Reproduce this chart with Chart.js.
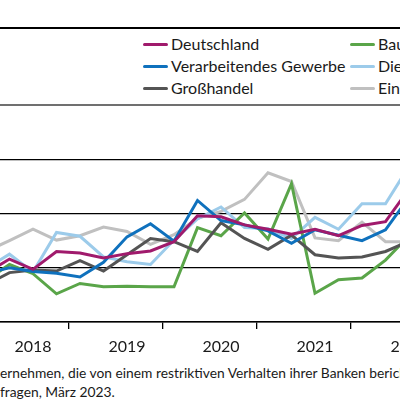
<!DOCTYPE html>
<html lang="de">
<head>
<meta charset="utf-8">
<script src="https://cdn.jsdelivr.net/npm/chart.js@4.4.1/dist/chart.umd.min.js"></script>
<style>
  html, body { margin: 0; padding: 0; width: 400px; height: 400px; overflow: hidden; background: #fff; }
  body { position: relative; font-family: Lato, "Open Sans", sans-serif; color: #1a1a1a; }
  #topRule { position: absolute; left: 0; top: 27px; width: 400px; height: 2px; background: #000; }
  #legend { position: absolute; left: 0; top: 0; width: 400px; height: 100px; }
  .item { position: absolute; white-space: nowrap; font-size: 16px; line-height: 18px; display: flex; align-items: center; }
  .item i { display: inline-block; width: 25px; height: 3px; border-radius: 2px; margin-right: 3px; }
  #chartBox { position: absolute; left: 0; top: 0; width: 400px; height: 360px; }
  .note { position: absolute; left: 0; white-space: nowrap; font-size: 13.8px; line-height: 16px; }
  .note .pre { position: absolute; right: 100%; top: 0; }
</style>
</head>
<body>
<div id="topRule"></div>
<div id="legend"></div>
<div id="chartBox"><canvas id="chart" width="400" height="360"></canvas></div>
<div class="note" style="top:365px"><span class="pre">Anteil der Unt</span>ernehmen, die von einem restriktiven Verhalten ihrer Banken berichten.</div>
<div class="note" style="top:384px"><span class="pre">Quelle: ifo Konjunkturum</span>fragen, März 2023.</div>
<script>
// quarters 2018-Q1 .. 2022-Q3 (share of firms, %)
const periods = ['2018-Q1', '2018-Q2', '2018-Q3', '2018-Q4', '2019-Q1', '2019-Q2', '2019-Q3', '2019-Q4',
    '2020-Q1', '2020-Q2', '2020-Q3', '2020-Q4', '2021-Q1', '2021-Q2', '2021-Q3', '2021-Q4',
    '2022-Q1', '2022-Q2', '2022-Q3'];
const yearLabels = ['2018', '2019', '2020', '2021', '2022'];

const deutschland = [9.0, 11.6, 9.7, 13.0, 12.7, 11.8, 12.6, 13.1, 14.8, 19.6, 19.4, 17.9, 17.1, 16.2, 17.1, 15.9, 17.8, 18.5, 24.5];
const verarbeitendes = [9.0, 10.0, 9.3, 9.0, 8.3, 11.0, 15.7, 18.1, 14.9, 22.4, 18.7, 17.9, 16.8, 14.5, 17.0, 16.0, 15.0, 17.0, 23.0];
const grosshandel = [6.8, 9.1, 9.6, 9.4, 11.3, 9.4, 12.4, 15.4, 14.8, 13.0, 18.3, 15.4, 13.4, 16.0, 12.4, 11.8, 12.0, 13.0, 14.9];
const bau = [7.7, 10.6, 8.9, 5.2, 7.1, 6.5, 6.6, 6.5, 6.5, 17.4, 15.9, 20.1, 15.3, 25.5, 5.3, 7.8, 8.1, 11.4, 15.9];
const dienstleister = [9.8, 12.5, 9.2, 16.5, 15.8, 12.0, 11.1, 10.6, 15.1, 19.0, 21.2, 17.4, 17.2, 15.4, 19.3, 17.1, 21.8, 21.8, 28.7];
const einzelhandel = [13.0, 15.0, 17.1, 15.1, 15.9, 17.5, 16.7, 14.3, 16.1, 19.1, 20.4, 22.6, 27.5, 25.9, 15.5, 15.0, 18.4, 14.8, 14.8];

const series = [
    { label: 'Deutschland', data: deutschland, color: '#a01a6c', col: 0, row: 0 },
    { label: 'Verarbeitendes Gewerbe', data: verarbeitendes, color: '#0f71bd', col: 0, row: 1 },
    { label: 'Großhandel', data: grosshandel, color: '#545454', col: 0, row: 2 },
    { label: 'Bauhauptgewerbe', data: bau, color: '#5aa549', col: 1, row: 0 },
    { label: 'Dienstleister', data: dienstleister, color: '#9ccbea', col: 1, row: 1 },
    { label: 'Einzelhandel', data: einzelhandel, color: '#c0c0c0', col: 1, row: 2 }
];

// legend
const legend = document.getElementById('legend');
series.forEach(s => {
    const el = document.createElement('div');
    el.className = 'item';
    el.style.left = (s.col === 0 ? 143 : 350) + 'px';
    el.style.top = (35 + s.row * 22) + 'px';
    el.innerHTML = '<i style="background:' + s.color + '"></i>' + s.label;
    legend.appendChild(el);
});

// year boundaries and label positions (index into periods)
const boundaries = [3.5, 7.5, 11.5, 15.5];
const labelPos = [2, 6, 10, 14, 18];

const ctx = document.getElementById('chart').getContext('2d');
new Chart(ctx, {
    type: 'line',
    data: {
        datasets: series.map(s => ({
            label: s.label,
            data: s.data.map((v, i) => ({ x: i, y: v })),
            borderColor: s.color,
            backgroundColor: s.color,
            borderWidth: 3,
            pointRadius: 0,
            tension: 0,
            fill: false
        }))
    },
    options: {
        responsive: false,
        animation: false,
        layout: { padding: { top: 105, left: 0, right: 0, bottom: 0 } },
        plugins: { legend: { display: false }, tooltip: { enabled: false } },
        scales: {
            x: {
                type: 'linear',
                min: 0.596,
                max: 17.617,
                afterBuildTicks: scale => {
                    const t = boundaries.map(v => ({ value: v })).concat(labelPos.map(v => ({ value: v })));
                    scale.ticks = t.sort((a, b) => a.value - b.value);
                },
                afterFit: scale => {
                    scale.height = 38;
                    scale.paddingLeft = 0;
                    scale.paddingRight = 0;
                },
                ticks: {
                    autoSkip: false,
                    maxRotation: 0,
                    padding: 8,
                    color: '#1a1a1a',
                    font: { family: 'Lato', size: 16 },
                    callback: value => {
                        const i = labelPos.indexOf(value);
                        return i >= 0 ? yearLabels[i] : '';
                    }
                },
                grid: {
                    drawOnChartArea: false,
                    drawTicks: true,
                    tickLength: 7,
                    lineWidth: 1.3,
                    color: c => (c.tick && boundaries.includes(c.tick.value)) ? '#000' : 'rgba(0,0,0,0)'
                },
                border: { display: true, color: '#000', width: 1.5 }
            },
            y: {
                min: 0,
                max: 40,
                afterFit: scale => { scale.width = 0; },
                ticks: { display: false, stepSize: 10 },
                grid: {
                    drawTicks: false,
                    color: c => c.tick.value === 40 ? '#707070' : '#000',
                    lineWidth: c => c.tick.value === 40 ? 2 : 1.2
                },
                border: { display: false }
            }
        }
    }
});
</script>
</body>
</html>
